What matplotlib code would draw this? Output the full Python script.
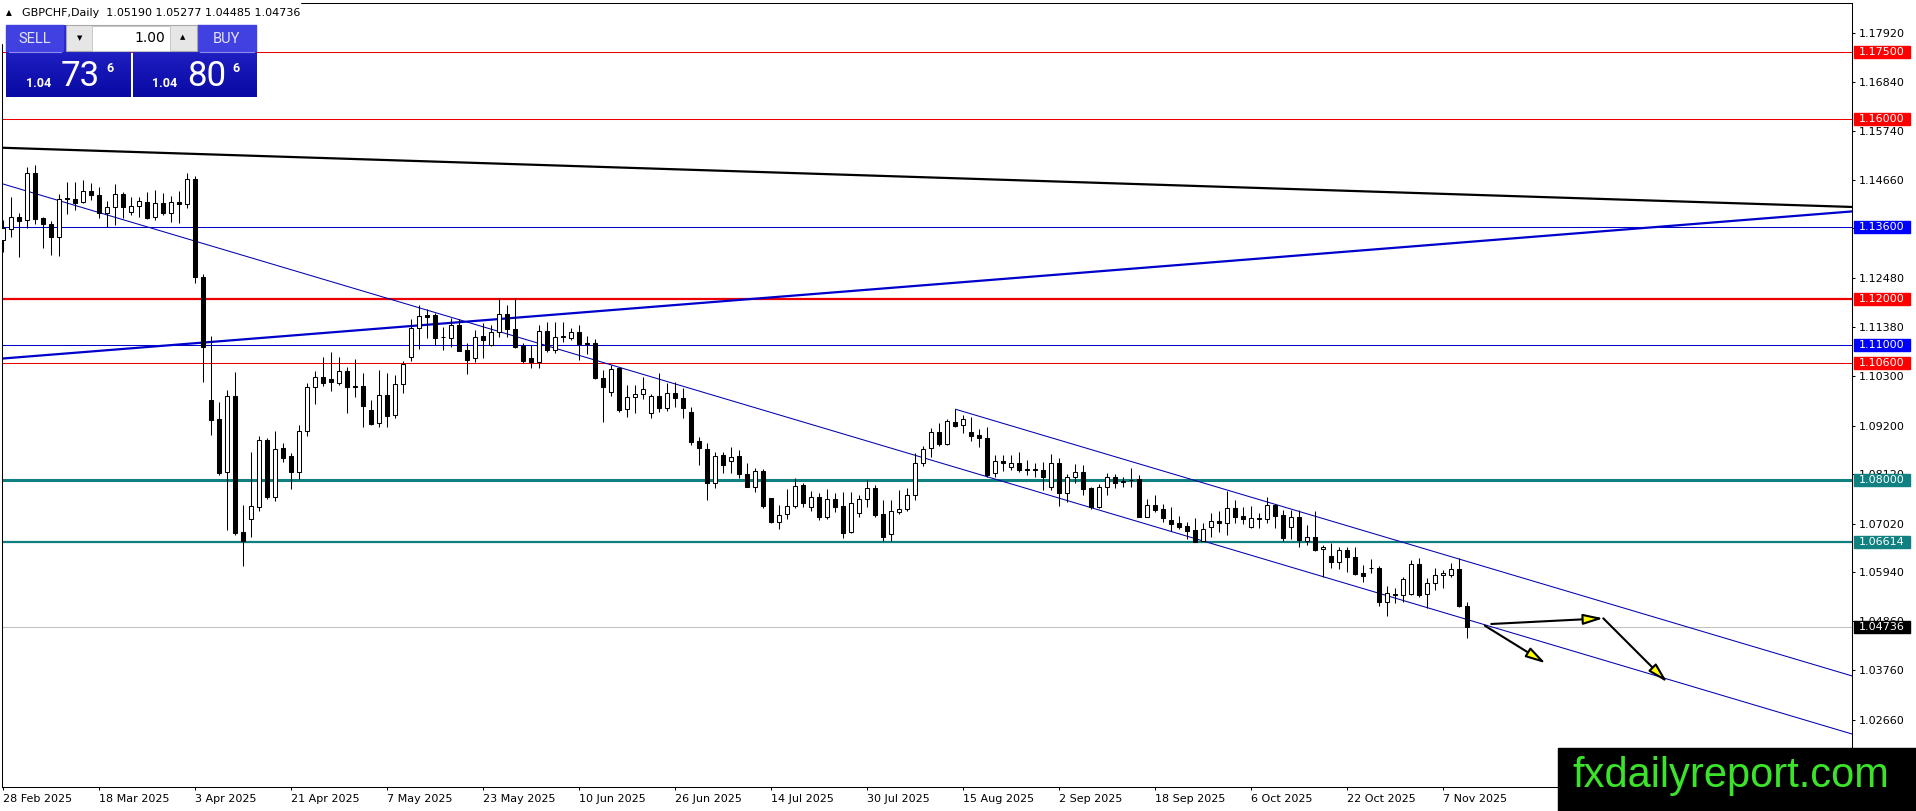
import numpy as np
import matplotlib
matplotlib.use("Agg")
import matplotlib.pyplot as plt
from matplotlib.patches import Rectangle, FancyArrowPatch
from matplotlib import font_manager

# ---- daily candles, 28 Feb 2025 .. 12 Nov 2025 (bar index = trading day) ----
opens = [
    1.13321, 1.13559, 1.13826, 1.13766, 1.14803, 1.13803, 1.13677, 1.13381, 1.14254, 1.14226,
    1.14159, 1.14410, 1.14321, 1.13928, 1.14048, 1.14343, 1.13950, 1.14077, 1.14172, 1.13826,
    1.14137, 1.13915, 1.14159, 1.14121, 1.14670, 1.12493, 1.09768, 1.09339, 1.08175, 1.09857,
    1.06830, 1.07132, 1.07398, 1.08879, 1.07620, 1.08695, 1.08524, 1.08175, 1.09086, 1.10050,
    1.10272, 1.10234, 1.10152, 1.10412, 1.10079, 1.10079, 1.09546, 1.09250, 1.09879, 1.09435,
    1.10123, 1.10730, 1.11360, 1.11649, 1.11656, 1.11174, 1.11138, 1.11434, 1.10878, 1.10694,
    1.11189, 1.10989, 1.11285, 1.11678, 1.11338, 1.10967, 1.10694, 1.10605, 1.11307, 1.10878,
    1.11174, 1.11138, 1.11285, 1.11011, 1.11040, 1.10250, 1.09952, 1.10472, 1.09561, 1.09828,
    1.09901, 1.09486, 1.09857, 1.09584, 1.09917, 1.09806, 1.09508, 1.08864, 1.08673, 1.07918,
    1.08546, 1.08420, 1.08524, 1.08124, 1.07842, 1.08198, 1.07585, 1.07065, 1.07236, 1.07414,
    1.07880, 1.07398, 1.07607, 1.07163, 1.07562, 1.07414, 1.06843, 1.07265, 1.07562, 1.07807,
    1.07236, 1.06792, 1.07287, 1.07340, 1.07658, 1.08376, 1.08695, 1.09064, 1.08791, 1.09286,
    1.09213, 1.09064, 1.08991, 1.08917, 1.08140, 1.08420, 1.08286, 1.08376, 1.08235, 1.08229,
    1.08213, 1.07829, 1.08362, 1.07709, 1.08051, 1.08175, 1.07807, 1.07385, 1.07829, 1.08064,
    1.07953, 1.07991, 1.08006, 1.07176, 1.07436, 1.07340, 1.07103, 1.07043, 1.06969, 1.06881,
    1.06643, 1.06954, 1.07087, 1.07029, 1.07362, 1.07191, 1.06954, 1.07140, 1.07117, 1.07436,
    1.07214, 1.06954, 1.07163, 1.06643, 1.06718, 1.06451, 1.06303, 1.06177, 1.06436, 1.06274,
    1.05918, 1.06044, 1.06044, 1.05287, 1.05458, 1.05436, 1.05458, 1.06125, 1.05458, 1.05696,
    1.05881, 1.05881, 1.06008, 1.05190,
]
highs = [
    1.13766, 1.14270, 1.13928, 1.14936, 1.14987, 1.13839, 1.13750, 1.14343, 1.14610, 1.14610,
    1.14654, 1.14581, 1.14505, 1.14194, 1.14565, 1.14394, 1.14283, 1.14283, 1.14394, 1.14432,
    1.14372, 1.14299, 1.14417, 1.14803, 1.14743, 1.12566, 1.11189, 1.09730, 1.09990, 1.10396,
    1.07436, 1.08620, 1.08968, 1.08924, 1.09086, 1.08806, 1.08584, 1.09213, 1.10152, 1.10419,
    1.10730, 1.10841, 1.10717, 1.10507, 1.10673, 1.10374, 1.09768, 1.10434, 1.10374, 1.10323,
    1.10641, 1.11567, 1.11878, 1.11782, 1.11700, 1.11396, 1.11582, 1.11560, 1.11027, 1.11323,
    1.11485, 1.11434, 1.12027, 1.11878, 1.12027, 1.11027, 1.10989, 1.11434, 1.11507, 1.11507,
    1.11507, 1.11360, 1.11434, 1.11189, 1.11116, 1.10434, 1.10545, 1.10507, 1.10101, 1.10101,
    1.10286, 1.09901, 1.10361, 1.10152, 1.10174, 1.10028, 1.09606, 1.08953, 1.08806, 1.08620,
    1.08620, 1.08716, 1.08657, 1.08362, 1.08251, 1.08229, 1.07600, 1.07436, 1.07784, 1.08029,
    1.07918, 1.07753, 1.07695, 1.07784, 1.07695, 1.07731, 1.07731, 1.07658, 1.07991, 1.07880,
    1.07547, 1.07547, 1.07769, 1.07807, 1.08598, 1.08747, 1.09139, 1.09250, 1.09339, 1.09561,
    1.09435, 1.09397, 1.09117, 1.09161, 1.08546, 1.08546, 1.08546, 1.08620, 1.08435, 1.08376,
    1.08398, 1.08568, 1.08473, 1.08124, 1.08346, 1.08324, 1.07829, 1.07902, 1.08140, 1.08124,
    1.08051, 1.08251, 1.08102, 1.07562, 1.07658, 1.07458, 1.07398, 1.07191, 1.07065, 1.07140,
    1.07043, 1.07265, 1.07309, 1.07753, 1.07547, 1.07398, 1.07414, 1.07265, 1.07607, 1.07458,
    1.07325, 1.07325, 1.07325, 1.06992, 1.07309, 1.06547, 1.06599, 1.06510, 1.06496, 1.06510,
    1.06103, 1.06230, 1.06081, 1.05636, 1.05585, 1.05842, 1.06214, 1.06251, 1.05807, 1.06030,
    1.05992, 1.06155, 1.06251, 1.05277,
]
lows = [
    1.13062, 1.13381, 1.12951, 1.13581, 1.13677, 1.13150, 1.12988, 1.12966, 1.13899, 1.13988,
    1.14137, 1.14210, 1.13803, 1.13608, 1.13655, 1.13803, 1.13877, 1.13839, 1.13786, 1.13766,
    1.13877, 1.13728, 1.13692, 1.14026, 1.12360, 1.10175, 1.08991, 1.08102, 1.06881, 1.06770,
    1.06081, 1.06732, 1.07309, 1.07562, 1.07531, 1.08397, 1.07784, 1.08006, 1.08968, 1.09679,
    1.10079, 1.09974, 1.10101, 1.09473, 1.09842, 1.09175, 1.09213, 1.09175, 1.09175, 1.09361,
    1.09917, 1.10641, 1.10894, 1.11138, 1.10989, 1.10878, 1.10938, 1.10863, 1.10345, 1.10619,
    1.10694, 1.10967, 1.11174, 1.11174, 1.10916, 1.10596, 1.10480, 1.10480, 1.10840, 1.10818,
    1.11063, 1.11100, 1.10656, 1.10789, 1.10228, 1.09286, 1.09857, 1.09508, 1.09384, 1.09473,
    1.09784, 1.09361, 1.09508, 1.09530, 1.09619, 1.09361, 1.08768, 1.08324, 1.07547, 1.07807,
    1.08140, 1.08140, 1.08029, 1.07829, 1.07731, 1.07362, 1.07040, 1.06897, 1.07117, 1.07362,
    1.07385, 1.07309, 1.07103, 1.07117, 1.07287, 1.06696, 1.06807, 1.07163, 1.07398, 1.07176,
    1.06643, 1.06643, 1.07236, 1.07309, 1.07547, 1.08295, 1.08509, 1.08747, 1.08768, 1.09161,
    1.09028, 1.08864, 1.08731, 1.08064, 1.08064, 1.08198, 1.08213, 1.08175, 1.08102, 1.08064,
    1.07769, 1.07769, 1.07414, 1.07509, 1.07918, 1.07658, 1.07340, 1.07362, 1.07658, 1.07807,
    1.07842, 1.07842, 1.07163, 1.07163, 1.07280, 1.07065, 1.06866, 1.06897, 1.06672, 1.06610,
    1.06630, 1.06732, 1.06843, 1.06770, 1.07043, 1.07014, 1.06926, 1.06926, 1.07043, 1.06926,
    1.06643, 1.06672, 1.06495, 1.06547, 1.06421, 1.05830, 1.06030, 1.06008, 1.05955, 1.05881,
    1.05715, 1.05918, 1.05192, 1.04970, 1.05252, 1.05287, 1.05436, 1.05385, 1.05141, 1.05547,
    1.05585, 1.05830, 1.05176, 1.04485,
]
closes = [
    1.13581, 1.13826, 1.13750, 1.14803, 1.13795, 1.13670, 1.13381, 1.14226, 1.14226, 1.14150,
    1.14417, 1.14328, 1.13915, 1.14048, 1.14343, 1.14048, 1.14070, 1.14188, 1.13803, 1.14137,
    1.13928, 1.14159, 1.14121, 1.14670, 1.12493, 1.10939, 1.09324, 1.08153, 1.09857, 1.06821,
    1.06643, 1.07414, 1.08879, 1.07620, 1.08673, 1.08486, 1.08175, 1.09086, 1.10050, 1.10272,
    1.10152, 1.10161, 1.10412, 1.10050, 1.10050, 1.09635, 1.09235, 1.09879, 1.09413, 1.10123,
    1.10567, 1.11360, 1.11633, 1.11618, 1.11138, 1.11160, 1.11434, 1.10863, 1.10656, 1.11174,
    1.11100, 1.11285, 1.11678, 1.11338, 1.10951, 1.10641, 1.10605, 1.11307, 1.10878, 1.11174,
    1.11183, 1.11285, 1.11011, 1.11040, 1.10250, 1.10063, 1.10450, 1.09546, 1.09828, 1.09901,
    1.10006, 1.09857, 1.09584, 1.09917, 1.09806, 1.09584, 1.08842, 1.08695, 1.07918, 1.08524,
    1.08324, 1.08509, 1.08124, 1.07842, 1.08198, 1.07414, 1.07065, 1.07214, 1.07414, 1.07858,
    1.07487, 1.07607, 1.07163, 1.07562, 1.07398, 1.06807, 1.07487, 1.07562, 1.07807, 1.07214,
    1.06732, 1.07309, 1.07340, 1.07658, 1.08376, 1.08673, 1.09064, 1.08791, 1.09308, 1.09190,
    1.09339, 1.08968, 1.08917, 1.08102, 1.08420, 1.08376, 1.08376, 1.08213, 1.08220, 1.08220,
    1.08064, 1.08362, 1.07709, 1.08064, 1.08175, 1.07784, 1.07385, 1.07829, 1.08064, 1.07931,
    1.07962, 1.07984, 1.07176, 1.07436, 1.07325, 1.07140, 1.07014, 1.06954, 1.06866, 1.06621,
    1.06897, 1.07087, 1.07029, 1.07362, 1.07176, 1.07132, 1.07140, 1.07125, 1.07436, 1.07191,
    1.06696, 1.07163, 1.06658, 1.06718, 1.06436, 1.06510, 1.06177, 1.06436, 1.06274, 1.05903,
    1.05859, 1.06035, 1.05287, 1.05487, 1.05443, 1.05785, 1.06125, 1.05436, 1.05696, 1.05881,
    1.05918, 1.06008, 1.05192, 1.04736,
]
ask_price = 1.04806

date_labels = ["28 Feb 2025", "18 Mar 2025", "3 Apr 2025", "21 Apr 2025", "7 May 2025",
               "23 May 2025", "10 Jun 2025", "26 Jun 2025", "14 Jul 2025", "30 Jul 2025",
               "15 Aug 2025", "2 Sep 2025", "18 Sep 2025", "6 Oct 2025", "22 Oct 2025",
               "7 Nov 2025"]
label_step = 12
price_ticks = [1.17920, 1.16840, 1.15740, 1.14660, 1.13580, 1.12480, 1.11380, 1.10300,
               1.09200, 1.08120, 1.07020, 1.05940, 1.04860, 1.03760, 1.02660]

# horizontal levels: price, colour, width
levels = [(1.17500, "red"), (1.16000, "red"), (1.13600, "blue"), (1.12000, "red"),
          (1.11000, "blue"), (1.10600, "red"), (1.08000, "teal"), (1.06614, "teal")]
level_width = [0.75, 0.75, 0.75, 1.6, 0.75, 0.75, 2.2, 1.6]

# trend lines as two anchor points (bar, price)
black_trend = [(0, 1.15370), (231, 1.14056)]
blue_trend = [(0, 1.10690), (231, 1.13955)]
channel_low = [(0, 1.14564), (231, 1.02353)]
channel_top_start = (119.05, 1.09561)

# drawn arrows (bar, price)
arrows = [((186.0, 1.04792), (200.0, 1.04918)),
          ((200.0, 1.04918), (208.0, 1.03497)),
          ((185.2, 1.04754), (192.8, 1.03918))]

COL = {"red": "#ee0000", "blue": "#0000c8", "teal": "#0f7f7f"}
BOX = {"red": "#ff0000", "blue": "#0000ff", "teal": "#118080"}

W, H = 1916, 811
fig = plt.figure(figsize=(W / 100, H / 100), dpi=100)
fig.patch.set_facecolor("white")
ax = fig.add_axes([2 / W, 24 / H, 1850 / W, 784 / H])

o = np.array(opens); hi = np.array(highs); lo = np.array(lows); c = np.array(closes)
x = np.arange(len(o))
up = c >= o

# levels and lines under the candles
for (p, col), lw in zip(levels, level_width):
    ax.axhline(p, color=COL[col], lw=lw, zorder=1)
ax.axhline(c[-1], color="#c0c0c0", lw=0.75, zorder=1)

ax.axline(black_trend[0], black_trend[1], color="black", lw=1.6, zorder=2)
ax.axline(blue_trend[0], blue_trend[1], color="#0000cc", lw=1.6, zorder=2)
ax.axline(channel_low[0], channel_low[1], color="#0000b0", lw=0.75, zorder=2)
slope = (channel_low[1][1] - channel_low[0][1]) / (channel_low[1][0] - channel_low[0][0])
x_end = 232
ax.plot([channel_top_start[0], x_end],
        [channel_top_start[1], channel_top_start[1] + slope * (x_end - channel_top_start[0])],
        color="#0000b0", lw=0.75, zorder=2)

# candles
ax.vlines(x, lo, hi, color="black", lw=0.75, zorder=3)
bottom = np.minimum(o, c)
height = np.maximum(np.abs(c - o), 0.00002)
ax.bar(x[up], height[up], bottom=bottom[up], width=0.45, color="white",
       edgecolor="black", lw=0.75, zorder=4)
ax.bar(x[~up], height[~up], bottom=bottom[~up], width=0.45, color="black",
       edgecolor="black", lw=0.75, zorder=4)

for a, b in arrows:
    ax.add_patch(FancyArrowPatch(a, b, arrowstyle="-|>,head_length=12,head_width=3.2",
                                 mutation_scale=1, lw=1.5, ec="black", fc="#ffff00",
                                 shrinkA=0, shrinkB=0, zorder=6))

ax.set_xlim(-0.16, 231.09)
ax.set_ylim(1.01171, 1.18586)

ax.yaxis.tick_right()
ax.set_yticks(price_ticks, [f"{t:.5f}" for t in price_ticks])
ax.set_xticks(range(0, len(date_labels) * label_step, label_step), date_labels)
for lab in ax.get_xticklabels():
    lab.set_ha("left")
ax.tick_params(axis="both", direction="out", length=2.2, width=0.75, labelsize=8,
               colors="black")
ax.tick_params(axis="y", pad=2.6)
ax.tick_params(axis="x", pad=2.6)
for s in ax.spines.values():
    s.set_color("black")
    s.set_linewidth(0.75)

# ---- overlay in pixel coordinates ----
ov = fig.add_axes([0, 0, 1, 1], zorder=10)
ov.set_xlim(0, W)
ov.set_ylim(H, 0)
ov.axis("off")
ov.patch.set_alpha(0)


def py(price):
    return H - ax.transData.transform((0, price))[1]


# right axis value boxes
for p, col in levels[:2] + levels[2:]:
    yy = py(p)
    ov.add_patch(Rectangle((1854, yy - 6), 56, 12, color=BOX[col], zorder=5))
    ov.text(1859, yy, f"{p:.5f}", color="white", fontsize=8, va="center", ha="left", zorder=6)
yy = py(c[-1])
ov.add_patch(Rectangle((1854, yy - 6), 56, 12, color="black", zorder=5))
ov.text(1859, yy, f"{c[-1]:.5f}", color="white", fontsize=8, va="center", ha="left", zorder=6)

# title
ov.add_patch(Rectangle((0, 0), 300, 21, color="white", zorder=1))
ov.add_patch(Rectangle((0, 0), 6, 43, color="white", zorder=1))
ov.text(6, 13, "\u25b2", fontsize=5.5, va="center", ha="left", zorder=2)
ov.text(22, 13, f"GBPCHF,Daily  {o[-1]:.5f} {hi[-1]:.5f} {lo[-1]:.5f} {c[-1]:.5f}",
        fontsize=8, va="center", ha="left", zorder=2)

# one-click trading panel
grad = np.linspace(0, 1, 50).reshape(-1, 1)
for x0, x1 in [(6, 131), (133, 257)]:
    ov.imshow(grad, cmap=matplotlib.colors.LinearSegmentedColormap.from_list(
        "pb", ["#2c2cd4", "#0909a4"]), extent=(x0, x1, 97, 25), aspect="auto", zorder=2)
for x0, w in [(6.5, 57), (197, 59)]:
    ov.add_patch(Rectangle((x0, 25), w, 26, color="#4141e2", zorder=3))
    ov.plot([x0 + 3, x0 + w - 2], [51.5, 51.5], color="#8c8cf0", lw=0.8, zorder=4)
ov.add_patch(Rectangle((66.5, 25), 130.5, 26, facecolor="#e6e6e6", edgecolor="#a8a8a8",
                       lw=0.8, zorder=3))
ov.add_patch(Rectangle((92.5, 25.5), 77.5, 25, facecolor="white", edgecolor="#c0c0c0",
                       lw=0.6, zorder=4))
ov.text(80, 38, "\u25bc", fontsize=5, ha="center", va="center", zorder=5)
ov.text(183, 37, "\u25b2", fontsize=5, ha="center", va="center", zorder=5)
ov.text(165, 38, "1.00", fontsize=10, ha="right", va="center", zorder=5)
ov.text(35, 39, "SELL", fontsize=10.5, family="Roboto", color="#e4e4ff", ha="center",
        va="center", zorder=5)
ov.text(226.5, 39, "BUY", fontsize=10.5, family="Roboto", color="#e4e4ff", ha="center",
        va="center", zorder=5)
for price, x_small, x_big, x_sup in [(c[-1], 26, 61, 106), (ask_price, 152, 187, 232)]:
    s = f"{price:.5f}"
    ov.text(x_small, 87, s[:4], fontsize=9, weight="bold", family="Roboto", color="white",
            va="baseline", ha="left", zorder=5)
    ov.text(x_big, 86.5, s[4:6], fontsize=25, family="Roboto", color="white",
            va="baseline", ha="left", zorder=5)
    ov.text(x_sup, 61.5, s[6], fontsize=9, weight="bold", family="Roboto", color="white",
            va="top", ha="left", zorder=5)

# watermark
names = {f.name for f in font_manager.fontManager.ttflist}
wm_font = "Liberation Sans" if "Liberation Sans" in names else "DejaVu Sans"
ov.add_patch(Rectangle((1558, 748), W - 1558, H - 748, color="black", zorder=7))
ov.text(1572, 787, "fxdailyreport.com", fontsize=30, family=wm_font, color="#3be32a",
        va="baseline", ha="left", zorder=8)

fig.savefig("out.png", dpi=100)
